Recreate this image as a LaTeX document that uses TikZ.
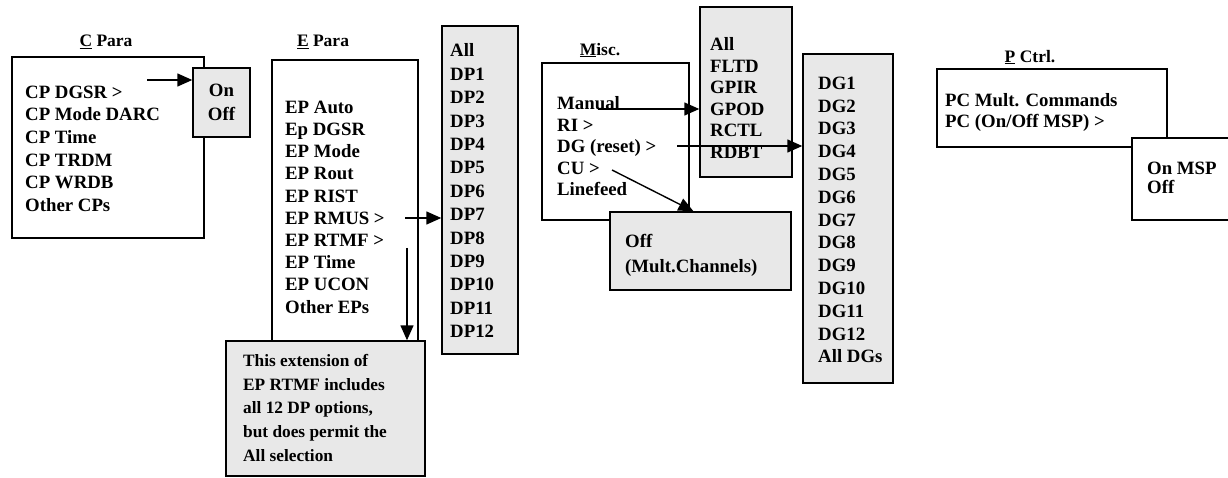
\documentclass[tikz,border=0pt]{standalone}
\usepackage{fontspec}
\setmainfont{Liberation Serif}
\usetikzlibrary{arrows.meta}

\begin{document}
\begin{tikzpicture}[
    x=1pt, y=-1pt,
    menu/.style={rectangle, draw, line width=1.4pt, fill=white, inner sep=0pt},
    opt/.style={menu, fill=black!9},
    items/.style={font={\fontsize{18.8}{#1}\selectfont\bfseries}, align=left, inner sep=0pt, anchor=north west},
    items/.default=22.4,
    heading/.style={font={\fontsize{17.5}{20}\selectfont\bfseries}, inner sep=0pt},
    arrow/.style={-{Triangle[length=15pt, width=13pt]}, line width=1.4pt}
]
\useasboundingbox (0,0) rectangle (1228,478);

% C Para
\node[heading] (ctitle) at (106,42) {\underline{C} Para};
\node[menu, minimum width=192pt, minimum height=181pt] (cpara) at (108,147.5) {};
\node[items=22.6] (cparalist) at (25,85.6) {CP DGSR >\\CP Mode DARC\\CP Time\\CP TRDM\\CP WRDB\\Other CPs};
\node[opt, minimum width=57pt, minimum height=69pt, align=center, font={\fontsize{18.8}{24}\selectfont\bfseries}] (onoff) at (221.5,102.5) {On\\Off};

% E Para
\node[heading] (etitle) at (323,42) {\underline{E} Para};
\node[menu, minimum width=146pt, minimum height=281pt] (epara) at (345,200.5) {};
\node[items=22.2] (eparalist) at (285,100.6) {EP Auto\\Ep DGSR\\EP Mode\\EP Rout\\EP RIST\\EP RMUS >\\EP RTMF >\\EP Time\\EP UCON\\Other EPs};
\node[opt, minimum width=76pt, minimum height=328pt] (dpmenu) at (480,190) {};
\node[items=23.4] (dplist) at (450,43.6) {All\\DP1\\DP2\\DP3\\DP4\\DP5\\DP6\\DP7\\DP8\\DP9\\DP10\\DP11\\DP12};
\node[opt, minimum width=199pt, minimum height=135pt] (rtmfnote) at (325.5,408.5) {};
\node[items=23.7, font={\fontsize{17.3}{23.7}\selectfont\bfseries}] (notetext) at (243,354) {This extension of\\EP RTMF includes\\all 12 DP options,\\but does permit the\\All selection};

% Misc.
\node[heading] (mtitle) at (600,50) {\underline{M}isc.};
\node[menu, minimum width=147pt, minimum height=157pt] (misc) at (615.5,141.5) {};
\node[items=21.5] (misclist) at (557,96.6) {Manual\\RI >\\DG (reset) >\\CU >\\Linefeed};
\node[opt, minimum width=92pt, minimum height=170pt] (grpmenu) at (746,92) {};
\node[items=21.5] (grplist) at (710,37.6) {All\\FLTD\\GPIR\\GPOD\\RCTL\\RDBT};
\node[opt, minimum width=90pt, minimum height=329pt] (dgmenu) at (848,218.5) {};
\node[items=22.8] (dglist) at (818,76.6) {DG1\\DG2\\DG3\\DG4\\DG5\\DG6\\DG7\\DG8\\DG9\\DG10\\DG11\\DG12\\All DGs};
\node[opt, minimum width=181pt, minimum height=78pt] (cumenu) at (700.5,251) {};
\node[items=25] (culist) at (625,233.6) {Off\\(Mult.Channels)};

% P Ctrl.
\node[heading] (ptitle) at (1030,57) {\underline{P} Ctrl.};
\node[menu, minimum width=230pt, minimum height=78pt] (pctrl) at (1052,108) {};
\node[items=21] (pctrllist) at (945,93.6) {PC Mult. Commands\\PC (On/Off MSP) >};
\node[menu, minimum width=108pt, minimum height=82pt] (mspmenu) at (1186,179) {};
\node[items=19] (msplist) at (1147,161.6) {On MSP\\Off};

% Connectors
\coordinate (cdgsr) at (147,80);
\coordinate (ermus) at (405,218);
\coordinate (ertmf) at (407,248);
\coordinate (mmanual) at (598,109);
\coordinate (mdg) at (677,146);
\coordinate (mcu) at (612,170);
\draw[arrow] (cdgsr) -- (cdgsr -| onoff.west);
\draw[arrow] (ermus) -- (ermus -| dpmenu.west);
\draw[arrow] (ertmf) -- (ertmf |- rtmfnote.north);
\draw[arrow] (mmanual) -- (mmanual -| grpmenu.west);
\draw[arrow] (mdg) -- (mdg -| dgmenu.west);
\draw[arrow] (mcu) -- (cumenu.100);
\end{tikzpicture}
\end{document}
